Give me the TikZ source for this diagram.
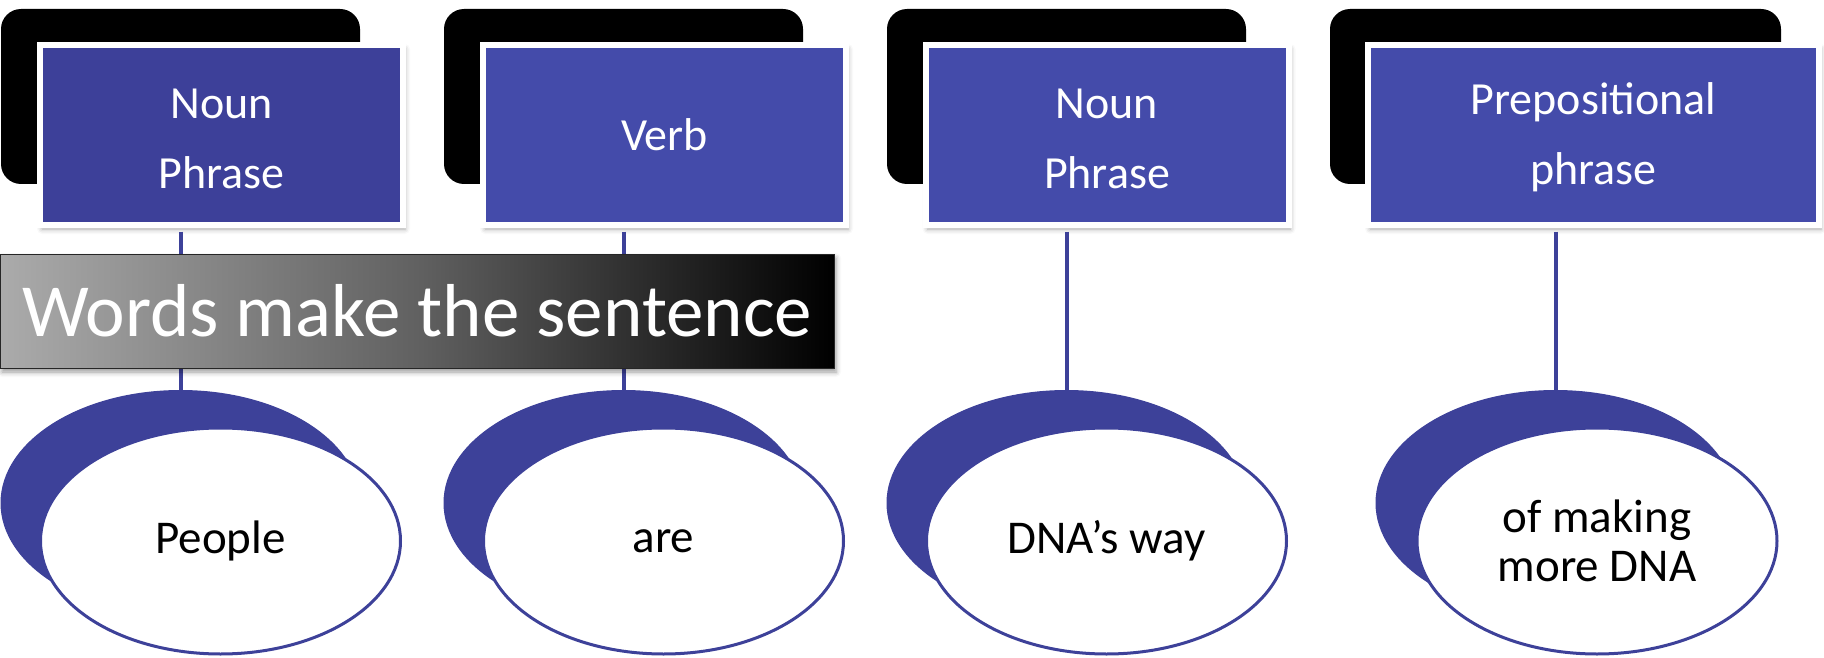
\documentclass[tikz,border=0pt]{standalone}
\usepackage{fontspec}
\setmainfont{Carlito}
\usetikzlibrary{shapes.geometric,shadows.blur}
\definecolor{bluedark}{HTML}{3D4099}
\definecolor{bluemid}{HTML}{444BAA}
\definecolor{linkblue}{HTML}{3D4199}
\newcommand\toplift{\rule{0pt}{37pt}}
\begin{document}
\begin{tikzpicture}[x=1pt,y=-1pt,
  backbox/.style={fill=black, rounded corners=20pt, minimum width=#1, minimum height=175pt, inner sep=0pt},
  backbox/.default=359pt,
  labelbox/.style={fill=bluemid, draw=white, line width=6pt, minimum width=#1, minimum height=180pt,
    inner sep=0pt, text=white, font=\fontsize{46}{70}\selectfont, align=center,
    blur shadow={shadow xshift=2pt, shadow yshift=-4pt, shadow blur radius=5pt, shadow opacity=35}},
  labelbox/.default=363pt,
  backoval/.style={ellipse, fill=linkblue, minimum width=360pt, minimum height=226pt, inner sep=0pt},
  wordoval/.style={ellipse, fill=white, draw=linkblue, line width=3pt, minimum width=360pt, minimum height=226pt,
    inner sep=0pt, text=black, font=\fontsize{47}{49}\selectfont, align=center},
  link/.style={draw=linkblue, line width=4pt, shorten <=3.5pt},
  banner/.style={left color=black!33, right color=black, middle color=black!62, draw=black!85, line width=1pt,
    minimum width=834pt, minimum height=114pt, inner sep=0pt, text=white, font=\fontsize{75}{80}\selectfont,
    blur shadow={shadow xshift=2pt, shadow yshift=-4pt, shadow blur radius=5pt, shadow opacity=40}}
]
\useasboundingbox (0,0) rectangle (1824,658);
% column 1
\node[backbox] (bk1) at (180.5,96.5) {};
\node[labelbox, fill=bluedark] (lb1) at (221.5,135) {\toplift Noun\\Phrase};
\node[backoval] (bo1) at (180.5,503) {};
\node[wordoval] (wo1) at (220.5,541) {People};
% column 2
\node[backbox] (bk2) at (623.5,96.5) {};
\node[labelbox] (lb2) at (664.5,135) {Verb};
\node[backoval] (bo2) at (623.5,503) {};
\node[wordoval] (wo2) at (663.5,541) {are};
% column 3
\node[backbox] (bk3) at (1066.5,96.5) {};
\node[labelbox] (lb3) at (1107,135) {\toplift Noun\\Phrase};
\node[backoval] (bo3) at (1066.5,503) {};
\node[wordoval] (wo3) at (1106.5,541) {DNA’s way};
% column 4
\node[backbox=451pt] (bk4) at (1555.5,96.5) {};
\node[labelbox=451pt] (lb4) at (1593.5,135) {\toplift Prepositional\\phrase};
\node[backoval] (bo4) at (1555.5,503) {};
\node[wordoval] (wo4) at (1597,541) {of making\\more DNA};
% connectors
\draw[link] (bk1.south |- lb1.south) -- (bo1.north);
\draw[link] (bk2.south |- lb2.south) -- (bo2.north);
\draw[link] (bk3.south |- lb3.south) -- (bo3.north);
\draw[link] (bk4.south |- lb4.south) -- (bo4.north);
% title banner
\node[banner] (title) at (417,311) {Words make the sentence};
\end{tikzpicture}
\end{document}
